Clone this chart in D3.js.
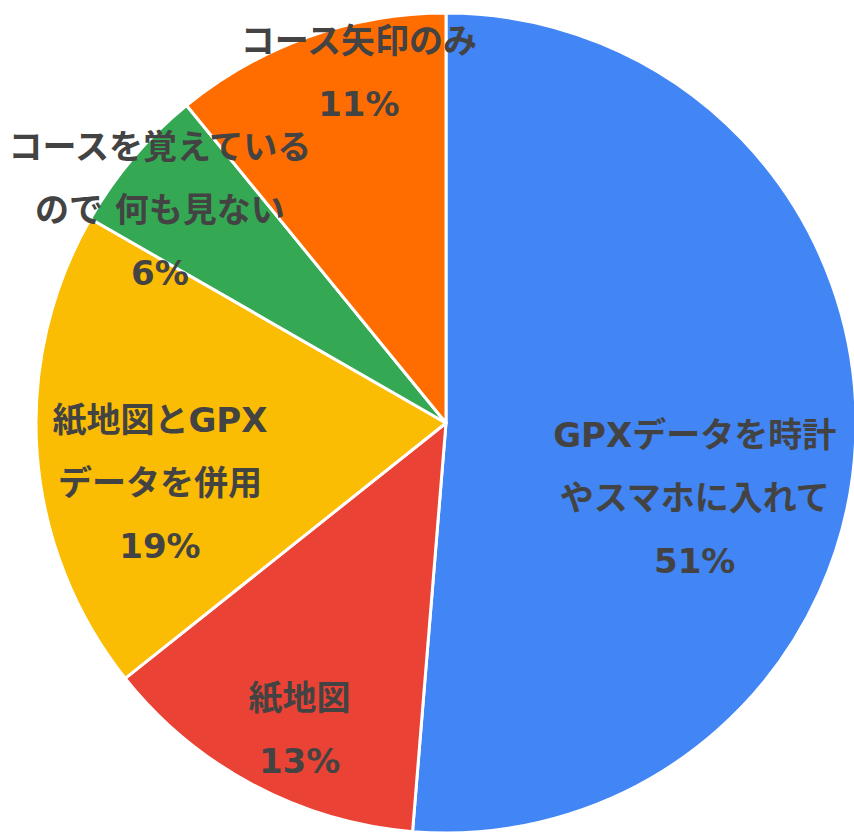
<!DOCTYPE html>
<html>
<head>
<meta charset="utf-8">
<script src="https://cdn.jsdelivr.net/npm/d3@7"></script>
<style>
  html, body { margin: 0; padding: 0; background: #fff; overflow: hidden; }
</style>
</head>
<body>
<div id="pie-chart"></div>
<script>
// slice data, clockwise from 12 o'clock
const categories = [
    ["GPXデータを時計", "やスマホに入れて"],
    ["紙地図"],
    ["紙地図とGPX", "データを併用"],
    ["コースを覚えている", "ので 何も見ない"],
    ["コース矢印のみ"]
];
const shares = [51.3, 13.0, 19.0, 5.8, 10.9];
const colors = ["#4285F4", "#EA4335", "#FBBC04", "#34A853", "#FF6D01"];

function drawPie() {
    var width = 854
    var height = 833;
    var cx = 446, cy = 423, radius = 410;

    let svg = d3.select("#pie-chart")
        .append("svg")
        .attr("width", width)
        .attr("height", height)

    var data = categories.map((c, i) => ({ name: c, value: shares[i], color: colors[i] }))

    const pie = d3.pie()
        .sort(null)
        .value(d => d.value);

    const arc = d3.arc()
        .innerRadius(0)
        .outerRadius(radius);

    // centroid ring used for label anchors
    const labelArc = d3.arc()
        .innerRadius(radius * 0.8)
        .outerRadius(radius * 0.8);

    const g = svg.append("g")
        .attr("transform", "translate(" + cx + "," + cy + ")")

    const arcs = pie(data)

    g.selectAll("path")
        .data(arcs)
        .join("path")
        .attr("d", arc)
        .attr("fill", d => d.data.color)
        .attr("stroke", "white")
        .attr("stroke-width", 3)
        .attr("stroke-linejoin", "round")

    // nudges so the labels sit where the original put them
    const nudge = [[-79, 61], [8, 17], [41, 35], [-36, -1], [23, -42]]
    const lineGap = 63

    const labels = g.selectAll("g.lbl")
        .data(arcs)
        .join("g")
        .attr("class", "lbl")
        .attr("transform", (d, i) => {
            const p = labelArc.centroid(d)
            return "translate(" + (p[0] + nudge[i][0]) + "," + (p[1] + nudge[i][1]) + ")"
        })

    labels.each(function (d) {
        const lines = d.data.name.concat([Math.round(d.data.value) + "%"])
        const top = -(lines.length - 1) * lineGap / 2
        d3.select(this).selectAll("text")
            .data(lines)
            .join("text")
            .attr("x", 0)
            .attr("y", (t, j) => top + j * lineGap)
            .attr("dy", "0.36em")
            .attr("text-anchor", "middle")
            .style("font-family", "'DejaVu Sans', 'Noto Sans CJK JP', sans-serif")
            .style("font-weight", "bold")
            .style("font-size", "34px")
            .style("fill", "#434343")
            .text(t => t)
    })
}

drawPie()
</script>
</body>
</html>
